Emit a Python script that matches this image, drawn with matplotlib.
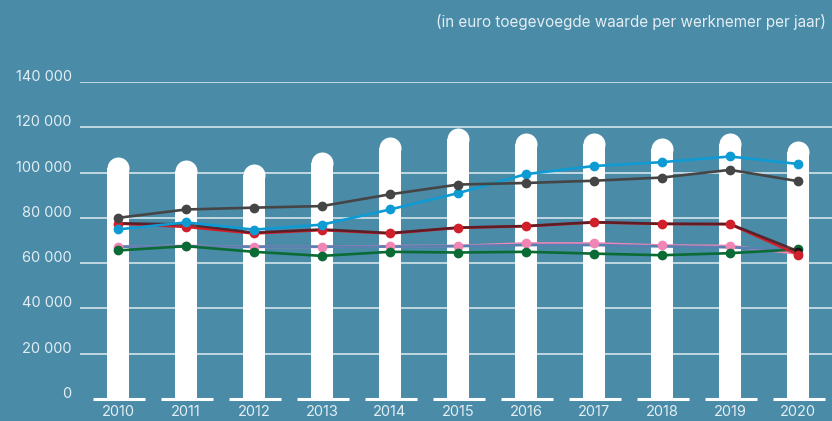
import matplotlib
matplotlib.use("Agg")
import matplotlib.pyplot as plt
import matplotlib.transforms as mtrans
import numpy as np

years = ["2010", "2011", "2012", "2013", "2014", "2015", "2016", "2017", "2018", "2019", "2020"]
bar_values = [106900, 105500, 103600, 108900, 115800, 119700, 117300, 117300, 115100, 117300, 114100]
gray = [80000, 83700, 84500, 85200, 90400, 94700, 95400, 96400, 97800, 101200, 96200]
blue = [74900, 78000, 74800, 77000, 83700, 90900, 99300, 102900, 104600, 107100, 103800]
red = [77500, 76000, 73100, 74600, 73100, 75600, 76300, 78000, 77300, 77200, 63800]
maroon = [77600, 77100, 73500, 74900, 73300, 75700, 76400, 78100, 77400, 77300, 65300]
pink = [67200, 67600, 67200, 67200, 67500, 67600, 68700, 68700, 67800, 67600, 64200]
slate = [67300, 67400, 67300, 67300, 67300, 67500, 68000, 68000, 67400, 67000, 65800]
green = [65600, 67500, 65000, 63200, 65000, 64700, 65000, 64200, 63500, 64400, 66100]
yticks = [0, 20000, 40000, 60000, 80000, 100000, 120000, 140000]
ytick_labels = ["0", "20 000", "40 000", "60 000", "80 000", "100 000", "120 000", "140 000"]
title = "(in euro toegevoegde waarde per werknemer per jaar)"

BG = "#4a8ba8"
TXT = "#e3eef3"
FONT = ["Inter", "DejaVu Sans"]
plt.rcParams["font.family"] = FONT

W, H = 832, 421
fig = plt.figure(figsize=(W / 100, H / 100), dpi=100, facecolor=BG)
ax_left, ax_right = 80, 832
y0_px, ytop_px = 399, 82
ax = fig.add_axes([ax_left / W, (H - y0_px) / H, (ax_right - ax_left) / W, (y0_px - ytop_px) / H])
ax.set_facecolor(BG)
ax.set_ylim(0, 140000)
px_per_unit = 68.0
ax.set_xlim(-(118 - ax_left) / px_per_unit, (ax_right - 118) / px_per_unit)
for s in ax.spines.values():
    s.set_visible(False)

x = np.arange(len(years))
data_per_px = 140000 / (y0_px - ytop_px)

# gridlines
for v in yticks[1:]:
    ax.axhline(v, color="#c9dde6", lw=1.3, zorder=1)

# bars with rounded tops
bar_w_px = 22
r = (bar_w_px / 2) * data_per_px
bw = bar_w_px / px_per_unit
ax.bar(x, [v - r for v in bar_values], width=bw, color="white", zorder=2, linewidth=0)
ax.plot(x, [v - r for v in bar_values], "o", ms=bar_w_px * 0.72, color="white", mec="white", mew=0, zorder=2)

# baseline segments
for xi in x:
    ax.plot([xi - 25 / px_per_unit, xi + 27 / px_per_unit], [0, 0], color="white", lw=2.2,
            solid_capstyle="butt", zorder=3, clip_on=False)

lw = 1.9
ms = 6.0
# pink + slate
ax.plot(x, pink, color="#ef86b5", lw=lw, zorder=4)
ax.plot(x, slate, color="#5781b0", lw=lw, zorder=4.5)
ax.plot(x, pink, "o", color="#ef86b5", ms=ms, zorder=5)
# green
ax.plot(x, green, color="#0a6b35", lw=lw, marker="o", ms=ms, zorder=6)
# red + maroon
ax.plot(x, red, color="#d0202b", lw=lw, zorder=6)
ax.plot(x, maroon, color="#4e1b22", lw=lw, alpha=0.85, zorder=6.5)
ax.plot(x, red, "o", color="#d0202b", ms=ms, zorder=7)
ax.plot(x, maroon, "o", color="#1c1416", ms=ms * 0.8, zorder=6.8)
# blue
ax.plot(x, blue, color="#0e9bd3", lw=lw, marker="o", ms=ms, zorder=7.5)
# gray
ax.plot(x, gray, color="#454545", lw=lw, marker="o", ms=ms, zorder=8)

ax.set_yticks(yticks)
ax.set_yticklabels(ytick_labels)
ax.set_xticks(x)
ax.set_xticklabels(years)
ax.tick_params(axis="y", length=0, pad=6, colors=TXT, labelsize=10.5)
ax.tick_params(axis="x", length=0, pad=4, colors=TXT, labelsize=10.5)
up = mtrans.ScaledTranslation(0, 5 / 100, fig.dpi_scale_trans)
for lab in ax.get_yticklabels():
    lab.set_verticalalignment("center")
    lab.set_transform(lab.get_transform() + up)

fig.text(826 / W, 1 - 22 / H, title, ha="right", va="center", color=TXT, fontsize=11)

fig.savefig("out.png", dpi=100, facecolor=BG)
